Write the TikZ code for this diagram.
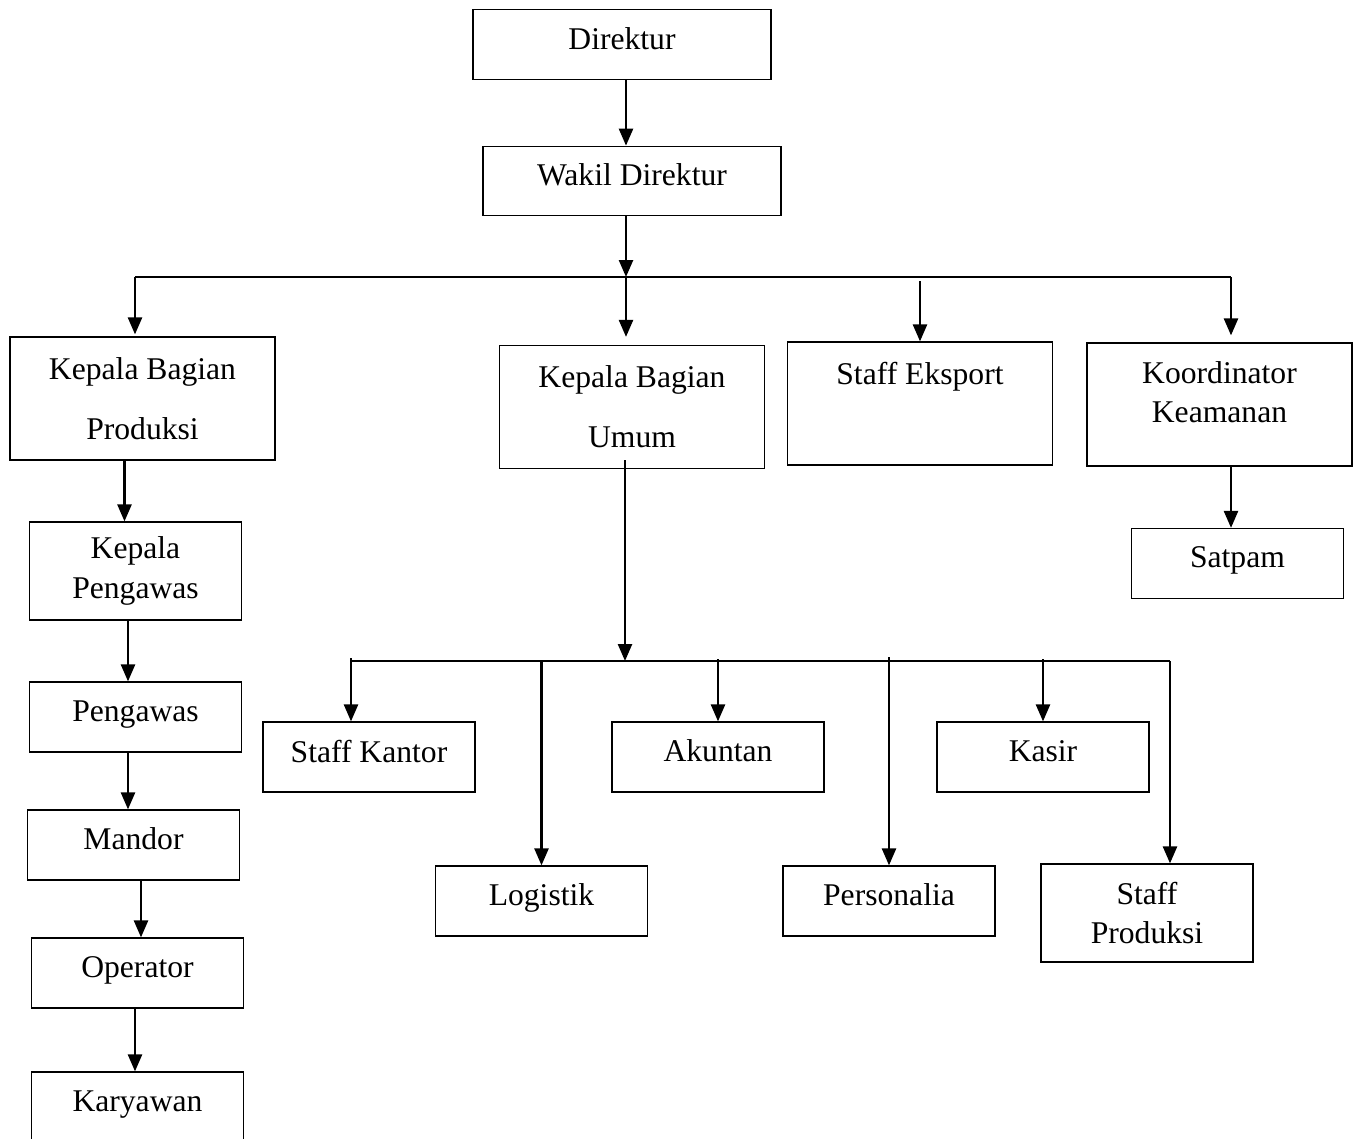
\documentclass[tikz,border=0pt]{standalone}
\usepackage{fontspec}
\setmainfont{Liberation Serif}
\usetikzlibrary{arrows.meta,positioning}
\tikzstyle{box} = [draw, line width=0.7pt, align=center, inner sep=2pt]
\tikzstyle{head} = [box, minimum width=5.96cm, minimum height=1.39cm, text depth=0.24cm]
\tikzstyle{dept} = [box, minimum width=5.3cm, minimum height=2.46cm]
\tikzstyle{unit} = [box, minimum width=4.24cm, minimum height=1.4cm, text depth=0.24cm]
\tikzstyle{unittall} = [box, minimum width=4.24cm, minimum height=1.96cm]
\tikzstyle{arrow} = [line width=1.4pt, -{Triangle[width=0.28cm,length=0.34cm]}]
\tikzstyle{bus} = [line width=1pt]

\begin{document}
\begin{tikzpicture}[x=0.02cm, y=-0.02cm, font=\fontsize{18}{22.7}\selectfont]
\useasboundingbox (0,0) rectangle (1353,1139);

% Top
\node[head] (dir) at (622,44.5) {Direktur};
\node[head] (wakil) at (632,181) {Wakil Direktur};

% Departments
\node[dept] (kbp) at (142.5,398.5) {Kepala Bagian\\[11.3pt]Produksi};
\node[dept] (kbu) at (632,407) {Kepala Bagian\\[11.3pt]Umum};
\node[dept] (se) at (920,403.5) {Staff Eksport\\[11.3pt]\mbox{}};
\node[dept] (kk) at (1219.5,404.5) {Koordinator\\Keamanan\\[-0.3cm]\mbox{}};
\node[unit] (satpam) at (1237.5,563.5) {Satpam};

% Produksi column
\node[unittall] (kp) at (135.5,571) {Kepala\\Pengawas};
\node[unit] (peng) at (135.5,717) {Pengawas};
\node[unit] (mandor) at (133.5,845) {Mandor};
\node[unit] (op) at (137.5,973) {Operator};
\node[unit] (kar) at (137.5,1107) {Karyawan};

% Umum units
\node[unit] (sk) at (369,757) {Staff Kantor};
\node[unit] (ak) at (718,757) {Akuntan};
\node[unit] (kasir) at (1043,757) {Kasir};
\node[unit] (log) at (541.5,901) {Logistik};
\node[unit] (pers) at (889,901) {Personalia};
\node[unittall] (sp) at (1147,913) {Staff\\Produksi};

% Bus points
\coordinate (busA) at (626,277);
\coordinate (busL) at (135,277);
\coordinate (busR) at (1231,277);
\coordinate (busB) at (625,661);
\coordinate (busBL) at (351,661);
\coordinate (busBR) at (1170,661);

% Arrows top
\draw[arrow] (dir.south -| busA) -- (wakil.north -| busA);
\draw[arrow] (wakil.south -| busA) -- (busA);
\draw[bus] (busL) -- (busR);
\draw[arrow] (busA) -- ([yshift=0.16cm]kbu.north -| busA);
\draw[arrow] (busL) -- ([yshift=0.04cm]kbp.north -| busL);
\draw[arrow] ([yshift=-0.08cm]busA -| se.north) -- (se.north);
\draw[arrow] (busR) -- ([yshift=0.14cm]kk.north -| busR);
\draw[arrow] (kk.south -| busR) -- (satpam.north -| busR);

% Arrows Produksi
\draw[arrow] ([xshift=-0.22cm]kp.north |- kbp.south) -- ([xshift=-0.22cm]kp.north);
\draw[arrow] ([xshift=-0.15cm]peng.north |- kp.south) -- ([xshift=-0.15cm]peng.north);
\draw[arrow] ([xshift=-0.11cm]mandor.north |- peng.south) -- ([xshift=-0.11cm]mandor.north);
\draw[arrow] ([xshift=0.07cm]op.north |- mandor.south) -- ([xshift=0.07cm]op.north);
\draw[arrow] ([xshift=-0.05cm]kar.north |- op.south) -- ([xshift=-0.05cm]kar.north);

% Arrows Umum
\draw[arrow] ([yshift=0.18cm]kbu.south -| busB) -- (busB);
\draw[bus] (busBL) -- (busBR);
\draw[arrow] ([yshift=0.06cm]busBL) -- (sk.north -| busBL);
\draw[arrow] (busB -| log.north) -- (log.north);
\draw[arrow] ([yshift=0.04cm]busB -| ak.north) -- (ak.north);
\draw[arrow] ([yshift=0.08cm]busB -| pers.north) -- (pers.north);
\draw[arrow] ([yshift=0.04cm]busB -| kasir.north) -- (kasir.north);
\draw[arrow] (busBR) -- (sp.north -| busBR);
\end{tikzpicture}
\end{document}
